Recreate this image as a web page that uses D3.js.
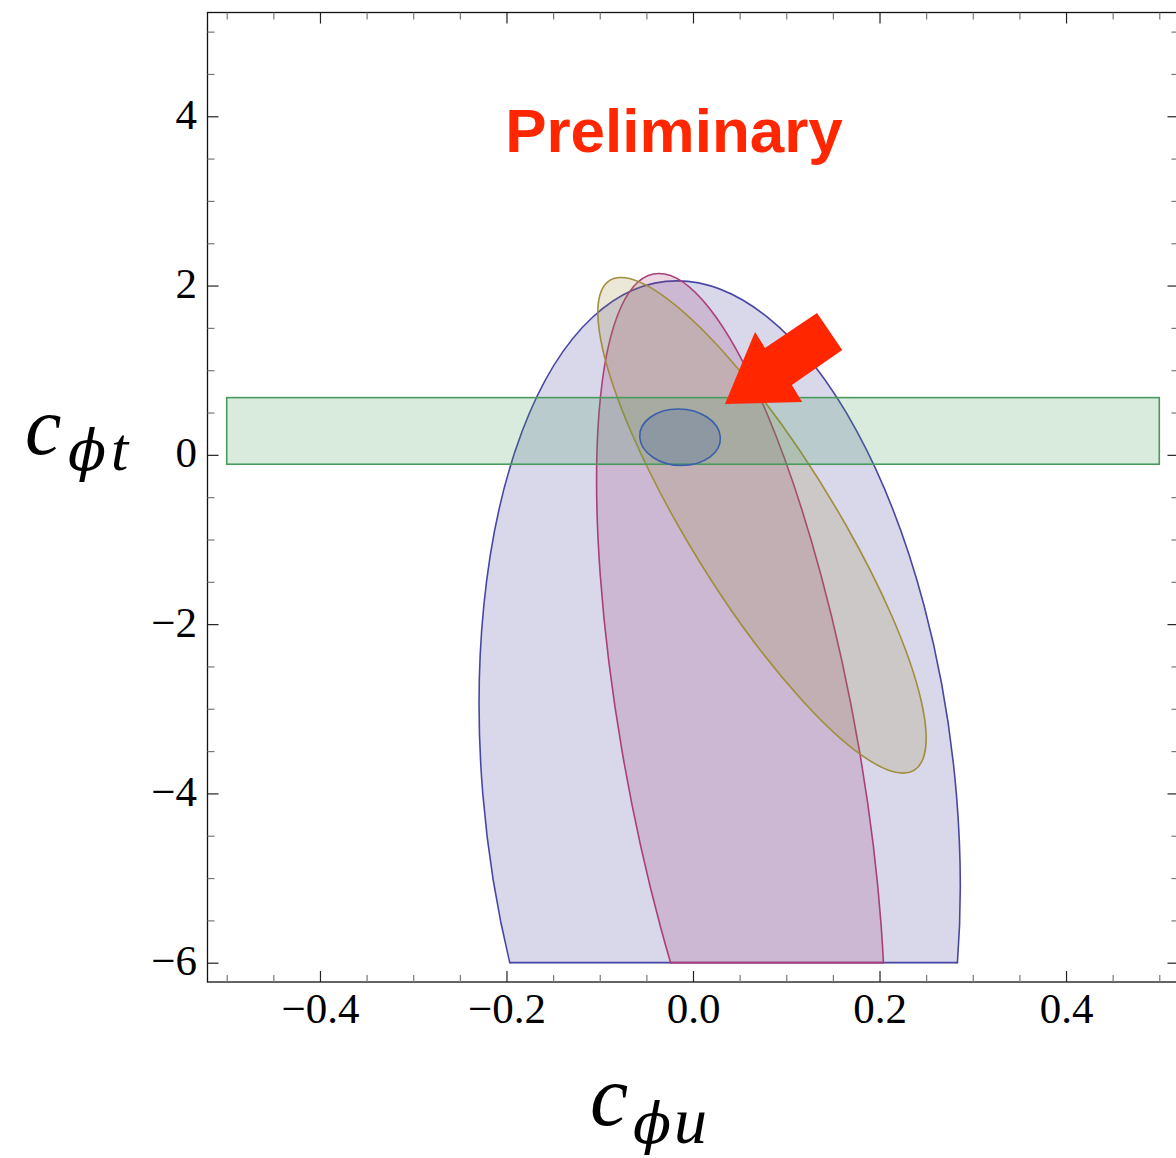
<!DOCTYPE html>
<html>
<head>
<meta charset="utf-8">
<script src="https://cdn.jsdelivr.net/npm/d3@7"></script>
<style>
  body { margin: 0; background: #fff; }
  svg { display: block; }
</style>
</head>
<body>
<svg id="chart"></svg>
<script>
// tick values and labels
let xMajorTicks = [-0.4, -0.2, 0, 0.2, 0.4]
let xTickLabels = ['\u22120.4', '\u22120.2', '0.0', '0.2', '0.4']
let xMinorTicks = [-0.5, -0.45, -0.35, -0.3, -0.25, -0.15, -0.1, -0.05, 0.05, 0.1, 0.15, 0.25, 0.3, 0.35, 0.45, 0.5]
let yMajorTicks = [-6, -4, -2, 0, 2, 4]
let yTickLabels = ['\u22126', '\u22124', '\u22122', '0', '2', '4']
let yMinorTicks = [-5.5, -5, -4.5, -3.5, -3, -2.5, -1.5, -1, -0.5, 0.5, 1, 1.5, 2.5, 3, 3.5, 4.5, 5]

// ellipse regions (data units):
// centre x, centre y, top point x, top point y, half width of the horizontal chord through the centre
let regionNames = ['blue', 'magenta', 'olive', 'core']
let centreX = [0.0286, 0.0512, 0.074, -0.0139]
let centreY = [-4.018, -3.498, -0.832, 0.208]
let topX = [-0.0172, -0.0365, -0.0772, -0.0158]
let topY = [2.055, 2.143, 2.096, 0.542]
let halfWidth = [0.2539, 0.1273, 0.0901, 0.0432]
let cutBelow = [-6, -6, null, null]   // blue and magenta stop at the lower edge of the scan

// green band [xmin, xmax, ymin, ymax]
let greenBand = [-0.5, 0.5, -0.111, 0.676]

// red arrow outline
let arrowShape = [
  [0.0343, 0.601], [0.0665, 1.452], [0.0772, 1.263], [0.133, 1.677], [0.160, 1.239],
  [0.106, 0.826], [0.117, 0.625]
]

let fills = ['rgb(63,61,153)', 'rgb(153,61,113)', 'rgb(153,139,61)', 'rgb(45,80,170)']
let strokes = ['rgb(72,70,165)', 'rgb(170,62,120)', 'rgb(160,142,60)', 'rgb(60,95,172)']

let width = 1176
let height = 1158
let plotLeft = 207.5, plotRight = 1178.5, plotTop = 12.5, plotBottom = 982

let svg = d3.select('#chart').attr('width', width).attr('height', height)
let defs = svg.append('defs')

let xScale = d3.scaleLinear().domain([-0.5206, 0.5206]).range([plotLeft, plotRight])
let yScale = d3.scaleLinear().domain([-6.228, 5.226]).range([plotBottom, plotTop])

defs.append('clipPath').attr('id', 'plotclip')
  .append('rect').attr('x', plotLeft).attr('y', plotTop)
  .attr('width', plotRight - plotLeft).attr('height', plotBottom - plotTop)

let plot = svg.append('g').attr('clip-path', 'url(#plotclip)')

// unit circle mapped through the two conjugate half diameters
ellipseMatrix = (i) => {
  let cx = xScale(centreX[i]), cy = yScale(centreY[i])
  let ux = xScale(topX[i]) - cx, uy = yScale(topY[i]) - cy
  let vx = xScale(centreX[i] + halfWidth[i]) - cx
  return 'matrix(' + [vx, 0, ux, uy, cx, cy].join(',') + ')'
}

regionNames.forEach((name, i) => {
  let g = plot.append('g')
  if (cutBelow[i] !== null) {
    defs.append('clipPath').attr('id', 'cut-' + name)
      .append('rect').attr('x', plotLeft).attr('y', plotTop)
      .attr('width', plotRight - plotLeft).attr('height', yScale(cutBelow[i]) - plotTop + 0.9)
    defs.append('clipPath').attr('id', 'shape-' + name)
      .append('circle').attr('r', 1).attr('transform', ellipseMatrix(i))
    g.attr('clip-path', 'url(#cut-' + name + ')')
  }
  g.append('circle')
    .attr('r', 1)
    .attr('transform', ellipseMatrix(i))
    .attr('fill', fills[i]).attr('fill-opacity', 0.2)
    .attr('stroke', strokes[i]).attr('stroke-width', 1.6)
    .attr('vector-effect', 'non-scaling-stroke')
  if (cutBelow[i] !== null) {
    plot.append('line')
      .attr('clip-path', 'url(#shape-' + name + ')')
      .attr('x1', plotLeft).attr('x2', plotRight)
      .attr('y1', yScale(cutBelow[i])).attr('y2', yScale(cutBelow[i]))
      .attr('stroke', strokes[i]).attr('stroke-width', 1.8)
  }
  if (name === 'olive') {
    plot.append('rect')
      .attr('x', xScale(greenBand[0]))
      .attr('y', yScale(greenBand[3]))
      .attr('width', xScale(greenBand[1]) - xScale(greenBand[0]))
      .attr('height', yScale(greenBand[2]) - yScale(greenBand[3]))
      .attr('fill', 'rgb(61,153,86)').attr('fill-opacity', 0.2)
      .attr('stroke', 'rgb(74,154,92)').attr('stroke-width', 1.6)
  }
})

// frame
svg.append('rect')
  .attr('x', plotLeft).attr('y', plotTop)
  .attr('width', plotRight - plotLeft).attr('height', plotBottom - plotTop)
  .attr('fill', 'none').attr('stroke', '#111').attr('stroke-width', 1.3)

let tickFont = "'Liberation Serif', 'Times New Roman', serif"

let drawTicks = (axisFn, scale, vals, size, color, tr, labels) => {
  let ax = axisFn(scale).tickValues(vals).tickSize(-size).tickPadding(10.5)
    .tickFormat(labels ? (d, i) => labels[i] : '')
  let g = svg.append('g').attr('transform', tr).call(ax)
  g.select('.domain').remove()
  g.selectAll('line').attr('stroke', color).attr('stroke-width', 1.2)
  g.selectAll('text').attr('font-family', tickFont).attr('font-size', 43).attr('fill', '#000')
  return g
}

drawTicks(d3.axisBottom, xScale, xMinorTicks, 7, '#777', 'translate(0,' + plotBottom + ')')
drawTicks(d3.axisBottom, xScale, xMajorTicks, 11, '#222', 'translate(0,' + plotBottom + ')', xTickLabels)
drawTicks(d3.axisTop, xScale, xMinorTicks, 7, '#777', 'translate(0,' + plotTop + ')')
drawTicks(d3.axisTop, xScale, xMajorTicks, 11, '#222', 'translate(0,' + plotTop + ')')
drawTicks(d3.axisLeft, yScale, yMinorTicks, 7, '#777', 'translate(' + plotLeft + ',0)')
drawTicks(d3.axisLeft, yScale, yMajorTicks, 11, '#222', 'translate(' + plotLeft + ',0)', yTickLabels)
  .selectAll('text').attr('dy', '0.28em')
drawTicks(d3.axisRight, yScale, yMinorTicks, 7, '#777', 'translate(' + plotRight + ',0)')
drawTicks(d3.axisRight, yScale, yMajorTicks, 11, '#222', 'translate(' + plotRight + ',0)')

// red arrow
let polyLine = d3.line().x(d => xScale(d[0])).y(d => yScale(d[1]))
svg.append('path')
  .attr('d', polyLine(arrowShape) + 'Z')
  .attr('fill', '#ff2600')

svg.append('text')
  .attr('x', 674).attr('y', 152)
  .attr('text-anchor', 'middle')
  .attr('font-family', "'Liberation Sans', Arial, sans-serif")
  .attr('font-weight', 'bold')
  .attr('font-size', 62)
  .attr('fill', '#ff2600')
  .text('Preliminary')

// axis titles, c with subscript
let serif = "'Liberation Serif', 'DejaVu Serif', serif"
let greek = "'DejaVu Serif', 'Liberation Serif', serif"

let yTitle = svg.append('text').attr('font-style', 'italic')
yTitle.append('tspan').attr('x', 25).attr('y', 454)
  .attr('font-family', serif).attr('font-size', 82).text('c')
yTitle.append('tspan').attr('x', 68).attr('y', 470)
  .attr('font-family', greek).attr('font-size', 56).text('\u03D5')
yTitle.append('tspan').attr('x', 111).attr('y', 470)
  .attr('font-family', serif).attr('font-size', 62).text('t')

let xTitle = svg.append('text').attr('font-style', 'italic')
xTitle.append('tspan').attr('x', 590).attr('y', 1125)
  .attr('font-family', serif).attr('font-size', 86).text('c')
xTitle.append('tspan').attr('x', 633).attr('y', 1143)
  .attr('font-family', greek).attr('font-size', 56).text('\u03D5')
xTitle.append('tspan').attr('x', 674).attr('y', 1143)
  .attr('font-family', serif).attr('font-size', 66).text('u')
</script>
</body>
</html>
